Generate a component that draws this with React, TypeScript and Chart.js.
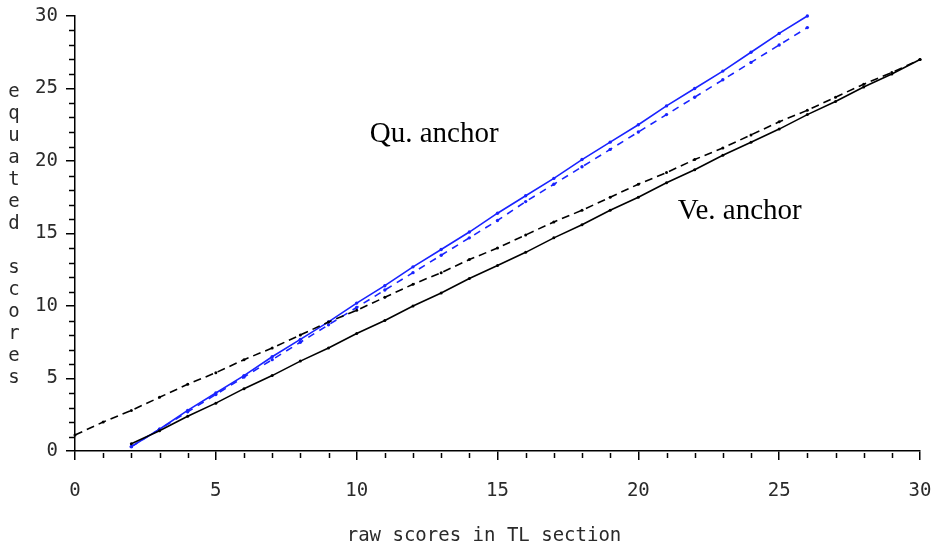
import React, { useEffect, useRef } from "react";
import { Chart, registerables } from "chart.js";

Chart.register(...registerables);

// raw scores (x) for each series
const quX: number[] = [2,3,4,5,6,7,8,9,10,11,12,13,14,15,16,17,18,19,20,21,22,23,24,25,26];
const veSolidX: number[] = [2,3,4,5,6,7,8,9,10,11,12,13,14,15,16,17,18,19,20,21,22,23,24,25,26,27,28,29,30];
const veDashX: number[] = [0,1,2,3,4,5,6,7,8,9,10,11,12,13,14,15,16,17,18,19,20,21,22,23,24,25,26,27,28,29,30];

// equated scores
const quSolid: number[] = [0.3,1.5,2.8,4.0,5.2,6.5,7.7,8.9,10.2,11.4,12.7,13.9,15.1,16.4,17.6,18.8,20.1,21.3,22.5,23.8,25.0,26.2,27.5,28.8,30.0];
const quDashed: number[] = [0.3,1.5,2.7,3.9,5.1,6.3,7.5,8.7,9.9,11.1,12.3,13.5,14.7,15.9,17.2,18.4,19.6,20.8,22.0,23.2,24.4,25.6,26.8,28.0,29.2];
const veSolid: number[] = [0.5,1.4,2.4,3.3,4.3,5.2,6.2,7.1,8.1,9.0,10.0,10.9,11.9,12.8,13.7,14.7,15.6,16.6,17.5,18.5,19.4,20.4,21.3,22.2,23.2,24.1,25.1,26.0,27.0];
const veDashed: number[] = [1.1,2.0,2.8,3.7,4.6,5.4,6.3,7.1,8.0,8.9,9.7,10.6,11.5,12.3,13.2,14.0,14.9,15.8,16.6,17.5,18.4,19.2,20.1,20.9,21.8,22.7,23.5,24.4,25.3,26.1,27.0];

const xTitle = "raw scores in TL section";
const yTitle = "equated scores";
const quLabel = "Qu. anchor";
const veLabel = "Ve. anchor";

const MONO = "'DejaVu Sans Mono', monospace";
const SERIF = "'Liberation Serif', 'Times New Roman', serif";
const BLUE = "rgb(25,35,255)";
const TEXT = "#2a2a2a";

const toPts = (xs: number[], ys: number[]) => xs.map((x, i) => ({ x, y: ys[i] }));

const decorPlugin = {
  id: "decor",
  afterDraw(chart: any) {
    const ctx = chart.ctx;
    const xs = chart.scales.x;
    const ys = chart.scales.y;
    const area = chart.chartArea;
    ctx.save();
    // minor ticks
    ctx.strokeStyle = "#000";
    ctx.lineWidth = 1.5;
    ctx.beginPath();
    for (let v = 0; v <= 30; v++) {
      if (v % 5 === 0) continue;
      const px = Math.round(xs.getPixelForValue(v)) + 0.5;
      ctx.moveTo(px, area.bottom + 2);
      ctx.lineTo(px, area.bottom + 7);
      const py = Math.round(ys.getPixelForValue(v)) + 0.5;
      ctx.moveTo(area.left - 1, py);
      ctx.lineTo(area.left - 6, py);
    }
    ctx.stroke();
    // axis titles
    ctx.fillStyle = TEXT;
    ctx.font = "19px " + MONO;
    ctx.textAlign = "center";
    ctx.textBaseline = "middle";
    ctx.fillText(xTitle, area.left + 409, area.bottom + 85);
    const letters = yTitle.split("");
    letters.forEach((ch, i) => {
      if (ch !== " ") ctx.fillText(ch, 14, 92 + i * 22);
    });
    // annotations
    ctx.fillStyle = "#000";
    ctx.font = "29px " + SERIF;
    ctx.textBaseline = "alphabetic";
    ctx.fillText(quLabel, xs.getPixelForValue(12.75), ys.getPixelForValue(21.3));
    ctx.fillText(veLabel, xs.getPixelForValue(23.6), ys.getPixelForValue(16.0));
    ctx.restore();
  },
};

export default function App() {
  const ref = useRef<HTMLCanvasElement>(null);
  useEffect(() => {
    if (!ref.current) return;
    const chart = new Chart(ref.current, {
      type: "scatter",
      data: {
        datasets: [
          {
            data: toPts(veDashX, veDashed),
            showLine: true,
            borderColor: "#000",
            backgroundColor: "#000",
            borderWidth: 1.6,
            borderDash: [8, 5],
            pointRadius: 1.5,
            pointBorderWidth: 0,
          },
          {
            data: toPts(veSolidX, veSolid),
            showLine: true,
            borderColor: "#000",
            backgroundColor: "#000",
            borderWidth: 1.6,
            pointRadius: 1.5,
            pointBorderWidth: 0,
          },
          {
            data: toPts(quX, quDashed),
            showLine: true,
            borderColor: BLUE,
            backgroundColor: BLUE,
            borderWidth: 1.6,
            borderDash: [7, 6],
            pointRadius: 1.7,
            pointBorderWidth: 0,
          },
          {
            data: toPts(quX, quSolid),
            showLine: true,
            borderColor: BLUE,
            backgroundColor: BLUE,
            borderWidth: 1.6,
            pointRadius: 1.7,
            pointBorderWidth: 0,
          },
        ],
      },
      options: {
        animation: false,
        responsive: false,
        clip: false as any,
        layout: { padding: { left: 0, right: 11, top: 16, bottom: 0 } },
        plugins: { legend: { display: false }, tooltip: { enabled: false }, title: { display: false } },
        scales: {
          x: {
            type: "linear",
            min: 0,
            max: 30,
            afterFit: (s: any) => { s.height = 96; s.paddingLeft = 0; s.paddingRight = 0; },
            ticks: { stepSize: 5, color: TEXT, font: { family: MONO, size: 19 }, padding: 20, maxRotation: 0 },
            grid: { display: true, drawOnChartArea: false, drawTicks: true, tickLength: 9, color: "#000", lineWidth: 1.5 },
            border: { display: true, color: "#000", width: 1.5 },
          },
          y: {
            type: "linear",
            min: 0,
            max: 30,
            afterFit: (s: any) => { s.width = 75; s.paddingTop = 0; s.paddingBottom = 0; },
            ticks: { stepSize: 5, color: TEXT, font: { family: MONO, size: 19 }, padding: 8 },
            grid: { display: true, drawOnChartArea: false, drawTicks: true, tickLength: 9, color: "#000", lineWidth: 1.5 },
            border: { display: true, color: "#000", width: 1.5 },
          },
        },
      },
      plugins: [decorPlugin],
    });
    return () => chart.destroy();
  }, []);
  return (
    <div style={{ position: "fixed", left: 0, top: 0, width: 931, height: 547, background: "#fff" }}>
      <canvas ref={ref} width={931} height={547} />
    </div>
  );
}
